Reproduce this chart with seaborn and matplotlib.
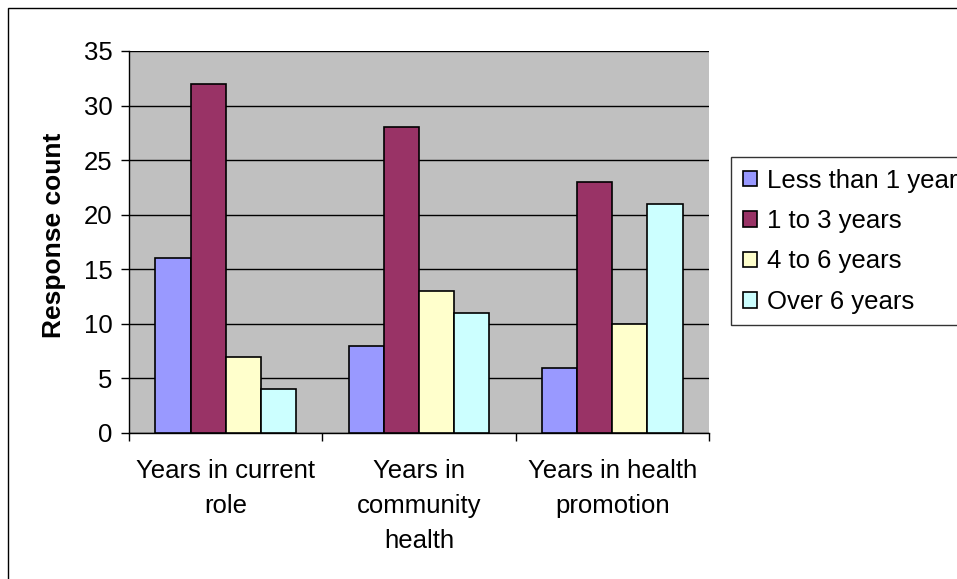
import matplotlib
matplotlib.use("Agg")
import matplotlib.pyplot as plt
from matplotlib.patches import Rectangle, Patch
import seaborn as sns
import pandas as pd

categories = ["Years in current\nrole", "Years in\ncommunity\nhealth", "Years in health\npromotion"]
series = ["Less than 1 year", "1 to 3 years", "4 to 6 years", "Over 6 years"]
less_than_1 = [16, 8, 6]
one_to_3 = [32, 28, 23]
four_to_6 = [7, 13, 10]
over_6 = [4, 11, 21]
colors = ["#9999FF", "#993366", "#FFFFCC", "#CCFFFF"]

rows = []
for name, vals in zip(series, [less_than_1, one_to_3, four_to_6, over_6]):
    for cat, v in zip(categories, vals):
        rows.append({"category": cat, "series": name, "count": v})
df = pd.DataFrame(rows)

sns.set_style("white")
plt.rcParams["font.family"] = ["Liberation Sans", "DejaVu Sans"]
plt.rcParams["text.color"] = "black"
plt.rcParams["axes.labelcolor"] = "black"
plt.rcParams["xtick.color"] = "black"
plt.rcParams["ytick.color"] = "black"

W, H = 957, 579
fig = plt.figure(figsize=(W / 100, H / 100), dpi=100)
ax = fig.add_axes([129 / W, 1 - 433 / H, (709 - 129) / W, (433 - 51) / H])
ax.set_facecolor("#C0C0C0")

sns.barplot(data=df, x="category", y="count", hue="series", order=categories,
            hue_order=series, palette=colors, width=4 / 5.5,
            edgecolor="black", linewidth=1.2, saturation=1, ax=ax, legend=False,
            zorder=3)

ax.set_xlim(-0.5, 2.5)
ax.set_ylim(0, 35)
ax.set_yticks(range(0, 36, 5))
ax.yaxis.grid(True, color="black", linewidth=1, zorder=1)
ax.set_axisbelow(True)
for s in ["top", "right"]:
    ax.spines[s].set_visible(False)
for s in ["left", "bottom"]:
    ax.spines[s].set_color("black")
    ax.spines[s].set_linewidth(1)

ax.tick_params(axis="y", direction="out", length=6, width=1, color="black",
               labelsize=18.5, pad=6, left=True)
ax.set_xticks([0, 1, 2])
ax.set_xticklabels(categories, fontsize=18.5, linespacing=1.58)
ax.tick_params(axis="x", length=0, pad=18.5)
ax.set_xticks([-0.5, 0.5, 1.5, 2.5], minor=True)
ax.tick_params(axis="x", which="minor", direction="out", length=6, width=1,
               color="black", bottom=True)
ax.set_xlabel("")
ax.set_ylabel("Response count", fontsize=19, fontweight="bold")
ax.yaxis.set_label_coords((66 - 129) / 580, (433 - 235) / 382)

handles = [Patch(facecolor=c, edgecolor="black", linewidth=1.2) for c in colors]
leg = fig.legend(handles, series, loc="upper left",
                 bbox_to_anchor=(731 / W, 1 - 157 / H), fontsize=18.5,
                 frameon=True, fancybox=False, edgecolor="black",
                 borderaxespad=0, handlelength=0.55, handleheight=0.55,
                 handletextpad=0.4, labelspacing=0.64, borderpad=0.45)
leg.get_frame().set_linewidth(1)

# outer chart border
fig.patches.append(Rectangle((8 / W, -0.1), 1.2, 1 - 8 / H + 0.1,
                             transform=fig.transFigure, fill=False,
                             edgecolor="black", linewidth=1, zorder=0))

fig.savefig("out.png", dpi=100)
